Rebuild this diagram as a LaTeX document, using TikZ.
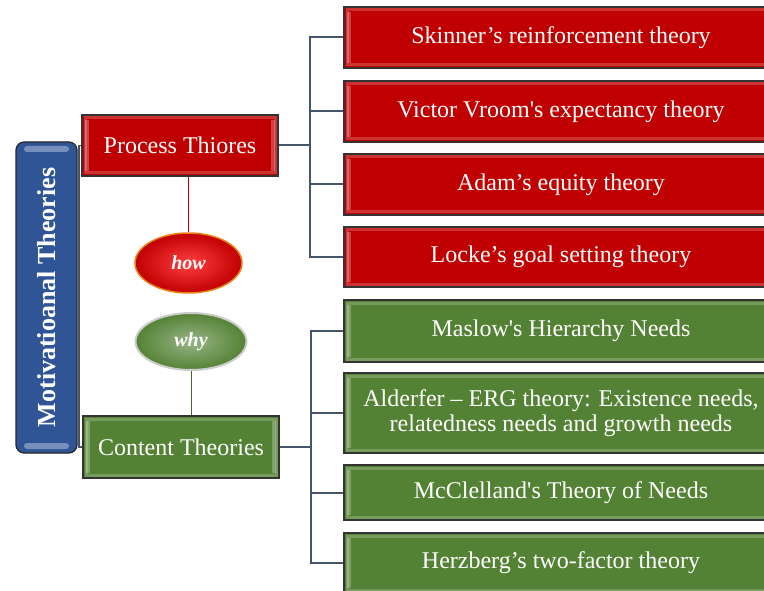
\documentclass[tikz,border=0pt]{standalone}
\usepackage{fontspec}
\setmainfont{Liberation Serif}[Ligatures=TeXOff]
\usetikzlibrary{shapes.geometric}
\definecolor{boxred}{HTML}{C00000}
\definecolor{boxgreen}{HTML}{548235}
\definecolor{boxblue}{HTML}{2F5597}
\definecolor{linkcol}{HTML}{44546A}
\tikzset{
  x=1pt, y=-1pt,
  bevel/.style={path picture={
     \draw[white, opacity=0.2, line width=3pt]
       ([shift={(3pt,-3pt)}]path picture bounding box.north west) rectangle
       ([shift={(-3pt,3pt)}]path picture bounding box.south east);
     \fill[white, opacity=0.25]
       ([shift={(3pt,-5pt)}]path picture bounding box.north west) rectangle
       ([shift={(7pt,5pt)}]path picture bounding box.south west);
     \fill[white, opacity=0.25]
       ([shift={(-3pt,-5pt)}]path picture bounding box.north east) rectangle
       ([shift={(-7pt,5pt)}]path picture bounding box.south east);}},
  tbox/.style={bevel, draw=black!80, line width=1.2pt, text=white, inner sep=0pt,
     align=center, font=\fontsize{24}{25}\selectfont},
  redbox/.style={tbox, fill=boxred},
  greenbox/.style={tbox, fill=boxgreen},
  link/.style={draw=linkcol, line width=2pt},
  oval/.style={ellipse, inner sep=0pt, text=white,
     font=\fontsize{20}{22}\selectfont\bfseries\itshape},
}
\begin{document}
\begin{tikzpicture}
\clip (0,0) rectangle (764,591);
\fill[white] (0,0) rectangle (764,591);
% connectors from main (behind boxes)
\coordinate (mj) at (79,297.5);
% main vertical box
\node[draw=black!85, line width=1.2pt, fill=boxblue, rounded corners=8pt,
      minimum width=61pt, minimum height=311pt, inner sep=0pt,
      path picture={
        \fill[white, opacity=0.35, rounded corners=3pt]
          ([shift={(8pt,-4pt)}]path picture bounding box.north west) rectangle
          ([shift={(-8pt,-10pt)}]path picture bounding box.north east);
        \fill[white, opacity=0.35, rounded corners=3pt]
          ([shift={(8pt,4pt)}]path picture bounding box.south west) rectangle
          ([shift={(-8pt,10pt)}]path picture bounding box.south east);}]
  (main) at (46.5,297.5) {};
\node[rotate=90, text=white, font=\fontsize{26}{28}\selectfont\bfseries] (maintext) at (main.center) {Motivatioanal Theories};
% level 1
\node[redbox, minimum width=196pt, minimum height=61pt] (proc) at (180,145.5) {Process Thiores};
\node[greenbox, minimum width=196pt, minimum height=62pt] (cont) at (181,447) {Content Theories};
\draw[link, line width=1.5pt] (main.east) -- (mj);
\draw[link, line width=1.5pt] (proc.west) -| (mj) |- (cont.west);
% ovals
\node[oval, minimum width=107pt, minimum height=60pt, draw=orange!70!brown, line width=1.5pt,
      inner color=red!75!white, outer color=boxred] (how) at (188.5,263) {how};
\node[oval, minimum width=111pt, minimum height=57pt, draw=gray!40, line width=2pt,
      inner color=boxgreen!60!white, outer color=boxgreen] (why) at (191,341.5) {why};
\draw[red!80!black, line width=0.8pt] (proc.south -| how) -- (how.north);
\draw[boxgreen!80!black, line width=0.8pt] (why.south) -- (why.south |- cont.north);
% right boxes
\node[redbox, minimum width=434pt, minimum height=61pt] (r1) at (561,37.5) {Skinner’s reinforcement theory};
\node[redbox, minimum width=434pt, minimum height=61pt] (r2) at (561,111.5) {Victor Vroom's expectancy theory};
\node[redbox, minimum width=434pt, minimum height=61pt] (r3) at (561,184.5) {Adam’s equity theory};
\node[redbox, minimum width=434pt, minimum height=60pt] (r4) at (561,257) {Locke’s goal setting theory};
\node[greenbox, minimum width=434pt, minimum height=62pt] (g1) at (561,331) {Maslow's Hierarchy Needs};
\node[greenbox, minimum width=434pt, minimum height=80pt] (g2) at (561,413) {Alderfer – ERG theory: Existence needs,\\relatedness needs and growth needs};
\node[greenbox, minimum width=434pt, minimum height=55pt] (g3) at (561,492.5) {McClelland's Theory of Needs};
\node[greenbox, minimum width=434pt, minimum height=60pt] (g4) at (561,563) {Herzberg’s two-factor theory};
% process tree
\coordinate (pj) at (310,145.5);
\draw[link] (proc.east) -- (pj);
\draw[link] (r1.west) -| (pj);
\draw[link] (r4.west) -| (pj);
\draw[link] (r2.west) -- (r2.west -| pj);
\draw[link] (r3.west) -- (r3.west -| pj);
% content tree
\coordinate (cj) at (311,447);
\draw[link] (cont.east) -- (cj);
\draw[link] (g1.west) -| (cj);
\draw[link] (g4.west) -| (cj);
\draw[link] (g2.west) -- (g2.west -| cj);
\draw[link] (g3.west) -- (g3.west -| cj);
\end{tikzpicture}
\end{document}
